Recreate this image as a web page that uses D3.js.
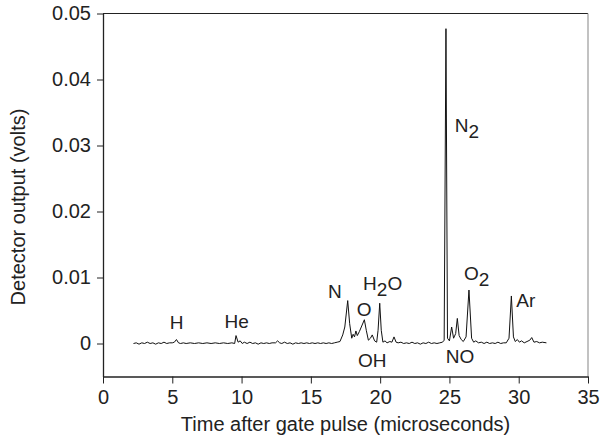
<!DOCTYPE html>
<html lang="en">
<head>
<meta charset="UTF-8">
<title>Detector output</title>
<script src="https://cdn.jsdelivr.net/npm/d3@7"></script>
<style>
  body { margin: 0; background: #fff; }
  text { font-family: "Liberation Sans", Arial, Helvetica, sans-serif; fill: #222; }
</style>
</head>
<body>
<svg id="chart" width="600" height="441"></svg>
<script>
// trace: time (microseconds) and detector output (volts)
const timeUs = [
  2.2, 2.4, 2.6, 2.8, 3.0, 3.2, 3.4, 3.6, 3.8, 4.0, 4.2, 4.4, 4.6, 4.8, 5.0, 5.15, 5.3, 5.45, 5.6, 5.8,
  6.0, 6.3, 6.6, 6.9, 7.2, 7.5, 7.8, 8.1, 8.4, 8.7, 9.0, 9.3, 9.5, 9.6, 9.75, 9.9, 10.05, 10.2, 10.4, 10.6,
  10.8, 11.0, 11.2, 11.4, 11.6, 11.8, 12.0, 12.2, 12.45, 12.6, 12.75, 12.9, 13.1, 13.3, 13.5, 13.7, 13.9, 14.1, 14.3, 14.5,
  14.7, 14.9, 15.1, 15.3, 15.5, 15.7, 15.9, 16.1, 16.3, 16.5, 16.7, 16.9, 17.1, 17.3, 17.45, 17.66, 17.8, 17.95, 18.05, 18.15,
  18.25, 18.35, 18.5, 18.7, 18.86, 19.0, 19.15, 19.3, 19.43, 19.6, 19.75, 19.85, 19.97, 20.08, 20.2, 20.35, 20.5, 20.7, 20.85, 21.0,
  21.15, 21.3, 21.5, 21.7, 21.9, 22.1, 22.3, 22.5, 22.7, 22.9, 23.1, 23.3, 23.5, 23.7, 23.9, 24.1, 24.3, 24.5, 24.62, 24.75,
  24.86, 25.0, 25.16, 25.3, 25.45, 25.57, 25.7, 25.85, 26.0, 26.2, 26.41, 26.6, 26.75, 26.9, 27.1, 27.3, 27.5, 27.7, 27.9, 28.1,
  28.3, 28.5, 28.7, 28.9, 29.1, 29.3, 29.47, 29.62, 29.75, 29.9, 30.05, 30.2, 30.4, 30.6, 30.8, 30.94, 31.1, 31.3, 31.5, 31.7,
  32.0
];
const volts = [
  0.0000, 0.0001, -0.0001, 0.0001, 0.0000, 0.0002, 0.0000, 0.0001, -0.0001, 0.0001, 0.0000, 0.0002, 0.0000, 0.0001, 0.0001, 0.0002, 0.0006, 0.0001, 0.0000, 0.0001,
  0.0000, 0.0001, 0.0000, 0.0001, 0.0000, 0.0001, 0.0000, 0.0001, 0.0000, 0.0001, 0.0000, 0.0001, 0.0000, 0.0012, 0.0002, 0.0004, 0.0000, 0.0002, 0.0000, 0.0002,
  0.0000, 0.0001, -0.0001, 0.0001, 0.0000, 0.0001, 0.0000, 0.0001, 0.0001, 0.0004, 0.0001, 0.0000, 0.0002, 0.0000, 0.0001, -0.0001, 0.0001, 0.0000, 0.0001, 0.0000,
  0.0001, 0.0000, 0.0001, 0.0000, 0.0001, 0.0000, 0.0001, 0.0000, 0.0001, 0.0000, 0.0001, 0.0002, 0.0003, 0.0013, 0.0025, 0.0065, 0.0030, 0.0008, 0.0014, 0.0010,
  0.0019, 0.0012, 0.0018, 0.0028, 0.0036, 0.0020, 0.0005, 0.0008, 0.0013, 0.0004, 0.0002, 0.0020, 0.0061, 0.0020, 0.0002, 0.0004, 0.0001, 0.0003, 0.0002, 0.0010,
  0.0002, 0.0001, 0.0002, 0.0000, 0.0001, 0.0000, 0.0002, 0.0000, 0.0001, -0.0001, 0.0001, 0.0000, 0.0002, 0.0000, 0.0001, 0.0000, 0.0001, 0.0002, 0.0005, 0.0477,
  0.0008, 0.0004, 0.0025, 0.0008, 0.0015, 0.0038, 0.0012, 0.0006, 0.0003, 0.0010, 0.0081, 0.0008, 0.0002, 0.0004, 0.0001, 0.0002, 0.0000, 0.0002, 0.0000, 0.0001,
  0.0000, 0.0002, 0.0000, 0.0001, 0.0001, 0.0008, 0.0072, 0.0010, 0.0003, 0.0006, 0.0002, 0.0004, 0.0001, 0.0003, 0.0005, 0.0009, 0.0002, 0.0003, 0.0001, 0.0002,
  0.0001
];

// peak labels: [main text, subscript, trailing text], placed in data units
const peakNames = [["H", "", ""], ["He", "", ""], ["N", "", ""], ["O", "", ""], ["H", "2", "O"],
                   ["OH", "", ""], ["N", "2", ""], ["NO", "", ""], ["O", "2", ""], ["Ar", "", ""]];
const peakTime = [5.32, 9.65, 16.74, 18.84, 20.18, 19.43, 26.27, 25.76, 26.97, 30.51];
const peakVolt = [0.00227, 0.00242, 0.00682, 0.0042, 0.00814, -0.00353, 0.0321, -0.00303, 0.00965, 0.00556];

const xTicks = [0, 5, 10, 15, 20, 25, 30, 35];
const yTicks = [0, 0.01, 0.02, 0.03, 0.04, 0.05];

const svg = d3.select('#chart');
const plotL = 103, plotR = 588, plotT = 13.5, plotB = 376.5;
const fs = 20;

const x = d3.scaleLinear().domain([0, 35]).range([plotL, plotR]);
const y = d3.scaleLinear().domain([-0.005, 0.05]).range([plotB, plotT]);

// frame: top dark, right grey
svg.append('line')
    .attr('x1', plotL).attr('x2', plotR).attr('y1', plotT).attr('y2', plotT)
    .attr('stroke', '#222').attr('stroke-width', 1.2);
svg.append('line')
    .attr('x1', plotR).attr('x2', plotR).attr('y1', plotT).attr('y2', plotB)
    .attr('stroke', '#999').attr('stroke-width', 1.2);

const yAxis = d3.axisLeft(y).tickValues(yTicks).tickSize(6).tickSizeOuter(0).tickPadding(6)
    .tickFormat(d => d === 0 ? '0' : d3.format('.2f')(d));
const gy = svg.append('g').attr('transform', `translate(${plotL},0)`).call(yAxis);

const xAxis = d3.axisBottom(x).tickValues(xTicks).tickSize(7).tickSizeOuter(0).tickPadding(6)
    .tickFormat(d3.format('d'));
const gx = svg.append('g').attr('transform', `translate(0,${plotB})`).call(xAxis);

[gx, gy].forEach(g => {
    g.selectAll('path').attr('stroke', '#222').attr('stroke-width', 1.3);
    g.selectAll('line').attr('stroke', '#222').attr('stroke-width', 1);
    g.selectAll('text').attr('font-size', fs).attr('font-family', null).style('fill', '#222');
});

// trace
const trace = timeUs.map((t, i) => [t, volts[i]]);
svg.append('path')
    .datum(trace)
    .attr('fill', 'none')
    .attr('stroke', '#111')
    .attr('stroke-width', 1)
    .attr('stroke-linejoin', 'round')
    .attr('d', d3.line().x(d => x(d[0])).y(d => y(d[1])));

// peak labels
peakNames.forEach((p, i) => {
    const t = svg.append('text')
        .attr('x', x(peakTime[i]))
        .attr('y', y(peakVolt[i]))
        .attr('text-anchor', 'middle')
        .attr('font-size', fs - 1);
    t.append('tspan').text(p[0]);
    if (p[1]) t.append('tspan').attr('dy', 6).text(p[1]);
    if (p[2]) t.append('tspan').attr('dy', -6).text(p[2]);
});

// axis titles
svg.append('text')
    .attr('x', (plotL + plotR) / 2)
    .attr('y', 431)
    .attr('text-anchor', 'middle')
    .attr('font-size', fs)
    .text('Time after gate pulse (microseconds)');
svg.append('text')
    .attr('transform', `translate(25,${(plotT + plotB) / 2 + 12}) rotate(-90)`)
    .attr('text-anchor', 'middle')
    .attr('font-size', fs)
    .text('Detector output (volts)');
</script>
</body>
</html>
